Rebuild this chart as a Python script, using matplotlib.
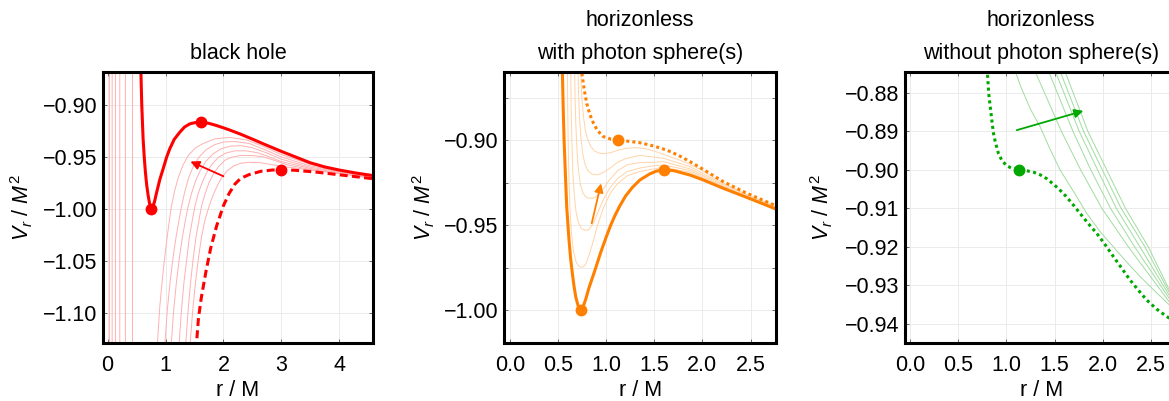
import matplotlib.pyplot as plt
from matplotlib.ticker import MultipleLocator, FuncFormatter

plt.rcParams['font.family'] = ['Liberation Sans', 'DejaVu Sans']
plt.rcParams['mathtext.fontset'] = 'custom'
plt.rcParams['mathtext.rm'] = 'Liberation Sans'
plt.rcParams['mathtext.it'] = 'Liberation Sans:italic'

# ---------------- black hole (red) ----------------
bh_solid_r = [0.565, 0.575, 0.59, 0.613, 0.635, 0.653, 0.675, 0.70, 0.725, 0.75, 0.78, 0.81,
              0.843, 0.90, 0.958, 1.02, 1.074, 1.15, 1.247, 1.33, 1.42, 1.52, 1.62, 1.75,
              1.88, 2.0, 2.116, 2.3, 2.5, 2.7, 3.0, 3.25, 3.5, 3.75, 4.0, 4.3, 4.6]
bh_solid_v = [-0.84, -0.868, -0.90, -0.9325, -0.952, -0.9647, -0.977, -0.987, -0.995, -1.000,
              -0.998, -0.993, -0.985, -0.972, -0.9615, -0.950, -0.942, -0.933, -0.926, -0.921,
              -0.918, -0.9167, -0.9164, -0.9175, -0.9196, -0.9218, -0.9241, -0.928, -0.9327,
              -0.9375, -0.9445, -0.950, -0.9555, -0.9595, -0.9625, -0.9655, -0.968]

bh_dash_r = [1.52, 1.535, 1.57, 1.62, 1.70, 1.78, 1.88, 2.0, 2.1, 2.2, 2.3, 2.45, 2.65, 2.85,
             3.0, 3.25, 3.6, 4.0, 4.3, 4.6]
bh_dash_v = [-1.16, -1.13, -1.105, -1.085, -1.06, -1.038, -1.017, -0.997, -0.985, -0.976,
             -0.9705, -0.9668, -0.9637, -0.9625, -0.9622, -0.9628, -0.9645, -0.9671, -0.969, -0.971]

bh_thin_r = [
    [0.43, 0.43, 0.85, 0.86, 0.90, 0.95, 1.00, 1.05, 1.10, 1.16, 1.22, 1.30, 1.40, 1.52, 1.65,
     1.85, 2.1, 2.4, 2.7, 3.0, 3.5, 4.0, 4.6],
    [0.307, 0.307, 0.98, 0.99, 1.03, 1.08, 1.13, 1.18, 1.23, 1.275, 1.33, 1.40, 1.48, 1.58,
     1.70, 1.85, 2.0, 2.2, 2.45, 2.7, 3.0, 3.5, 4.0, 4.6],
    [0.21, 0.21, 1.09, 1.10, 1.14, 1.19, 1.24, 1.29, 1.34, 1.39, 1.45, 1.52, 1.60, 1.70, 1.82,
     1.96, 2.12, 2.3, 2.5, 2.75, 3.0, 3.5, 4.0, 4.6],
    [0.135, 0.135, 1.225, 1.235, 1.275, 1.32, 1.37, 1.41, 1.46, 1.506, 1.56, 1.63, 1.71, 1.80,
     1.92, 2.05, 2.2, 2.4, 2.6, 2.8, 3.0, 3.5, 4.0, 4.6],
    [0.078, 0.078, 1.34, 1.35, 1.39, 1.435, 1.48, 1.525, 1.575, 1.62, 1.68, 1.75, 1.83, 1.92,
     2.03, 2.15, 2.3, 2.5, 2.7, 2.9, 3.1, 3.5, 4.0, 4.6],
    [0.03, 0.03, 1.415, 1.425, 1.47, 1.52, 1.57, 1.62, 1.68, 1.75, 1.82, 1.90, 1.98, 2.07,
     2.18, 2.3, 2.45, 2.65, 2.85, 3.0, 3.3, 3.6, 4.0, 4.6],
]
bh_thin_v = [
    [-0.80, -1.20, -1.20, -1.13, -1.095, -1.065, -1.04, -1.018, -0.998, -0.982, -0.970, -0.958,
     -0.948, -0.941, -0.937, -0.9325, -0.931, -0.9335, -0.940, -0.9476, -0.957, -0.963, -0.9683],
    [-0.80, -1.20, -1.20, -1.13, -1.098, -1.07, -1.047, -1.028, -1.012, -0.998, -0.984, -0.970,
     -0.959, -0.950, -0.943, -0.938, -0.9355, -0.935, -0.937, -0.9425, -0.9499, -0.9585,
     -0.9636, -0.9688],
    [-0.80, -1.20, -1.20, -1.13, -1.098, -1.07, -1.047, -1.028, -1.012, -0.998, -0.985, -0.973,
     -0.963, -0.954, -0.947, -0.942, -0.9395, -0.939, -0.941, -0.946, -0.9521, -0.9598,
     -0.9642, -0.9693],
    [-0.80, -1.20, -1.20, -1.13, -1.098, -1.07, -1.047, -1.028, -1.012, -0.998, -0.986, -0.975,
     -0.965, -0.957, -0.950, -0.946, -0.944, -0.944, -0.946, -0.950, -0.9543, -0.961, -0.9648,
     -0.9698],
    [-0.80, -1.20, -1.20, -1.13, -1.098, -1.07, -1.047, -1.028, -1.012, -0.998, -0.986, -0.975,
     -0.966, -0.959, -0.953, -0.950, -0.9485, -0.9485, -0.950, -0.9535, -0.9575, -0.962,
     -0.9654, -0.9703],
    [-0.80, -1.20, -1.20, -1.13, -1.098, -1.07, -1.047, -1.028, -1.011, -0.998, -0.987, -0.977,
     -0.969, -0.963, -0.9585, -0.956, -0.955, -0.9555, -0.9575, -0.9589, -0.961, -0.9632,
     -0.966, -0.9707],
]
bh_dots_r = [0.75, 1.62, 3.0]
bh_dots_v = [-1.000, -0.9164, -0.9622]
bh_arrow = [(2.0, -0.9685), (1.43, -0.9543)]  # tail, head

# ---------------- horizonless with photon spheres (orange) ----------------
ps_solid_r = [0.542, 0.544, 0.552, 0.561, 0.575, 0.589, 0.613, 0.63, 0.648, 0.665, 0.683, 0.71,
              0.735, 0.76, 0.79, 0.82, 0.88, 0.943, 1.0, 1.047, 1.09, 1.135, 1.2, 1.27, 1.35,
              1.45, 1.52, 1.6, 1.7, 1.871, 2.0, 2.217, 2.45, 2.703, 2.77]
ps_solid_v = [-0.84, -0.86, -0.88, -0.899, -0.92, -0.9394, -0.959, -0.970, -0.9786, -0.986,
              -0.9923, -0.998, -1.0002, -0.998, -0.993, -0.987, -0.977, -0.966, -0.957, -0.950,
              -0.9445, -0.9394, -0.933, -0.928, -0.9235, -0.920, -0.9183, -0.9176, -0.918,
              -0.9206, -0.9233, -0.9284, -0.9335, -0.9392, -0.9408]

ps_dot_r = [0.742, 0.745, 0.77, 0.797, 0.83, 0.866, 0.91, 0.97, 1.05, 1.126, 1.24, 1.351, 1.49,
            1.629, 1.75, 1.871, 2.0, 2.217, 2.45, 2.703, 2.77]
ps_dot_v = [-0.85, -0.86, -0.870, -0.8785, -0.885, -0.890, -0.8945, -0.898, -0.8995, -0.900,
            -0.9008, -0.9016, -0.9035, -0.9059, -0.909, -0.9127, -0.917, -0.9245, -0.931,
            -0.9372, -0.9387]

ps_thin_r = [
    [0.735, 0.74, 0.75, 0.765, 0.785, 0.81, 0.84, 0.88, 0.93, 0.98, 1.04, 1.12, 1.2, 1.3, 1.4,
     1.5, 1.6, 1.75, 1.871, 2.0, 2.217, 2.45, 2.703, 2.77],
    [0.707, 0.712, 0.72, 0.735, 0.755, 0.78, 0.81, 0.85, 0.91, 0.97, 1.04, 1.12, 1.2, 1.35, 1.6,
     1.871, 2.217, 2.45, 2.703, 2.77],
    [0.672, 0.676, 0.683, 0.695, 0.71, 0.73, 0.76, 0.80, 0.866, 0.92, 0.97, 1.04, 1.12, 1.22,
     1.35, 1.6, 1.871, 2.217, 2.45, 2.703, 2.77],
    [0.631, 0.635, 0.642, 0.652, 0.667, 0.685, 0.71, 0.74, 0.775, 0.814, 0.86, 0.91, 0.97, 1.04,
     1.12, 1.22, 1.35, 1.47, 1.6, 1.871, 2.217, 2.45, 2.703, 2.77],
    [0.596, 0.599, 0.605, 0.613, 0.625, 0.64, 0.66, 0.685, 0.71, 0.74, 0.765, 0.79, 0.82, 0.86,
     0.91, 0.97, 1.04, 1.12, 1.22, 1.35, 1.47, 1.6, 1.871, 2.217, 2.45, 2.703, 2.77],
]
ps_thin_v = [
    [-0.86, -0.868, -0.878, -0.887, -0.895, -0.900, -0.904, -0.9065, -0.9078, -0.908, -0.9075,
     -0.906, -0.905, -0.9045, -0.905, -0.9065, -0.9085, -0.9115, -0.9143, -0.918, -0.9253,
     -0.9318, -0.9376, -0.939],
    [-0.86, -0.872, -0.885, -0.898, -0.908, -0.9145, -0.918, -0.920, -0.9205, -0.919, -0.9165,
     -0.913, -0.911, -0.909, -0.9108, -0.9157, -0.926, -0.932, -0.938, -0.9395],
    [-0.86, -0.875, -0.89, -0.905, -0.917, -0.926, -0.9315, -0.934, -0.9343, -0.932, -0.9285,
     -0.923, -0.918, -0.9145, -0.9133, -0.9128, -0.917, -0.9267, -0.9327, -0.9384, -0.94],
    [-0.86, -0.88, -0.90, -0.918, -0.932, -0.942, -0.9485, -0.952, -0.953, -0.953, -0.9495,
     -0.943, -0.935, -0.928, -0.9225, -0.9185, -0.9165, -0.9153, -0.9147, -0.918, -0.9273,
     -0.9332, -0.9387, -0.9403],
    [-0.86, -0.88, -0.905, -0.925, -0.943, -0.956, -0.9655, -0.9715, -0.974, -0.9748, -0.9745,
     -0.9725, -0.968, -0.9605, -0.950, -0.940, -0.9315, -0.9255, -0.921, -0.9185, -0.9172,
     -0.9161, -0.919, -0.9278, -0.9336, -0.939, -0.9406],
]
ps_dots_r = [0.735, 1.60, 1.126]
ps_dots_v = [-1.0002, -0.9176, -0.900]
ps_arrow = [(0.849, -0.949), (0.946, -0.9255)]

# ---------------- horizonless without photon spheres (green) ----------------
np_dot_r = [0.795, 0.802, 0.815, 0.83, 0.85, 0.865, 0.882, 0.916, 0.951, 1.003, 1.06, 1.134,
            1.2, 1.279, 1.35, 1.418, 1.5, 1.59, 1.68, 1.763, 1.85, 1.937, 2.02, 2.109, 2.2,
            2.282, 2.37, 2.455, 2.56, 2.663, 2.77]
np_dot_v = [-0.872, -0.8746, -0.880, -0.8833, -0.8875, -0.8905, -0.8925, -0.8957, -0.8975,
            -0.899, -0.8996, -0.900, -0.9002, -0.9006, -0.9013, -0.9023, -0.904, -0.9061,
            -0.9087, -0.9113, -0.914, -0.9165, -0.9193, -0.9225, -0.9257, -0.9286, -0.9313,
            -0.9338, -0.9362, -0.9381, -0.9398]

np_thin_r = [
    [1.075, 1.085, 1.15, 1.25, 1.349, 1.45, 1.556, 1.70, 1.833, 1.97, 2.109, 2.25, 2.386, 2.52,
     2.687, 2.8],
    [1.29, 1.30, 1.57, 1.77, 1.99, 2.265, 2.687, 2.8],
    [1.43, 1.44, 1.69, 1.875, 2.08, 2.33, 2.687, 2.8],
    [1.50, 1.51, 1.755, 1.945, 2.14, 2.385, 2.687, 2.8],
    [1.55, 1.56, 1.80, 1.995, 2.19, 2.437, 2.687, 2.8],
    [1.60, 1.61, 1.845, 2.04, 2.235, 2.472, 2.687, 2.8],
]
np_thin_v = [
    [-0.873, -0.8740, -0.8785, -0.8843, -0.8888, -0.8945, -0.900, -0.9058, -0.9113, -0.916,
     -0.920, -0.924, -0.9277, -0.931, -0.935, -0.938],
    [-0.874, -0.8746, -0.89, -0.90, -0.91, -0.92, -0.9342, -0.9375],
    [-0.874, -0.8746, -0.89, -0.90, -0.91, -0.92, -0.9333, -0.937],
    [-0.874, -0.8746, -0.89, -0.90, -0.91, -0.92, -0.9325, -0.9365],
    [-0.874, -0.8746, -0.89, -0.90, -0.91, -0.92, -0.9317, -0.936],
    [-0.874, -0.8746, -0.89, -0.90, -0.91, -0.92, -0.931, -0.9355],
]
np_dots_r = [1.134]
np_dots_v = [-0.900]
np_arrow = [(1.107, -0.8897), (1.798, -0.8847)]

RED, RED_THIN = '#ff0000', '#ffb0b0'
ORANGE, ORANGE_THIN = '#ff8000', '#ffd4a8'
GREEN, GREEN_THIN = '#00a800', '#a0dca0'
FS = 15.5

W, H = 1169, 401
fig = plt.figure(figsize=(W / 100, H / 100), dpi=100)


def make_axes(x0, x1):
    return fig.add_axes([x0 / W, 1 - 342.7 / H, (x1 - x0) / W, (342.7 - 72) / H])


def fmt(decimals):
    return FuncFormatter(lambda v, pos: f'{v:.{decimals}f}'.replace('-', '\u2212'))


def style(ax, xlim, ylim, xstep, ystep, yminor, xdec, ydec, ylab_x):
    ax.set_xlim(*xlim)
    ax.set_ylim(*ylim)
    ax.xaxis.set_major_locator(MultipleLocator(xstep))
    ax.yaxis.set_major_locator(MultipleLocator(ystep))
    if yminor:
        ax.yaxis.set_minor_locator(MultipleLocator(yminor))
    ax.xaxis.set_major_formatter(fmt(xdec))
    ax.yaxis.set_major_formatter(fmt(ydec))
    ax.grid(True, which='both', color='#ebebeb', lw=0.7)
    ax.set_axisbelow(True)
    ax.tick_params(which='both', direction='in', length=3, width=0.6, color='#555555',
                   top=True, right=True, labelsize=FS)
    ax.tick_params(axis='x', pad=9)
    ax.tick_params(axis='y', pad=4)
    for s in ax.spines.values():
        s.set_linewidth(2.2)
    ax.set_xlabel('r / M', fontsize=FS)
    ax.set_ylabel(r'$V_r$ / $M^2$', fontsize=FS)
    ax.xaxis.set_label_coords(0.5, -0.138)
    ax.yaxis.set_label_coords(ylab_x, 0.5)


def arrow(ax, pts, color):
    ax.annotate('', xy=pts[1], xytext=pts[0],
                arrowprops=dict(arrowstyle='-|>', color=color, lw=1.3,
                                mutation_scale=13, shrinkA=0, shrinkB=0))


def titles(ax, lines):
    ys = [1.07, 1.192]
    for y, t in zip(ys, reversed(lines)):
        ax.text(0.5, y, t, transform=ax.transAxes, ha='center', va='center', fontsize=FS)


# panel 1
ax1 = make_axes(103, 373)
for r, v in zip(bh_thin_r, bh_thin_v):
    ax1.plot(r, v, color=RED_THIN, lw=0.7)
ax1.plot(bh_solid_r, bh_solid_v, color=RED, lw=2.2)
ax1.plot(bh_dash_r, bh_dash_v, color=RED, lw=2.2, ls=(0, (2.6, 1.4)))
ax1.plot(bh_dots_r, bh_dots_v, 'o', color=RED, ms=7.5)
arrow(ax1, bh_arrow, RED)
style(ax1, (-0.08, 4.585), (-1.129, -0.868), 1, 0.05, None, 0, 2, -0.252)
titles(ax1, ['black hole'])

# panel 2
ax2 = make_axes(504.3, 776)
for r, v in zip(ps_thin_r, ps_thin_v):
    ax2.plot(r, v, color=ORANGE_THIN, lw=0.7)
ax2.plot(ps_solid_r, ps_solid_v, color=ORANGE, lw=2.2)
ax2.plot(ps_dot_r, ps_dot_v, color=ORANGE, lw=2.2, ls=(0, (1.0, 1.0)))
ax2.plot(ps_dots_r, ps_dots_v, 'o', color=ORANGE, ms=7.5)
arrow(ax2, ps_arrow, ORANGE)
style(ax2, (-0.06, 2.765), (-1.0192, -0.86), 0.5, 0.05, 0.025, 1, 2, -0.249)
titles(ax2, ['horizonless', 'with photon sphere(s)'])

# panel 3 (runs past the right edge of the figure, as in the original)
ax3 = make_axes(905.3, 1177)
for r, v in zip(np_thin_r, np_thin_v):
    ax3.plot(r, v, color=GREEN_THIN, lw=0.7)
ax3.plot(np_dot_r, np_dot_v, color=GREEN, lw=2.2, ls=(0, (1.0, 1.1)))
ax3.plot(np_dots_r, np_dots_v, 'o', color=GREEN, ms=7.5)
arrow(ax3, np_arrow, GREEN)
style(ax3, (-0.05, 2.77), (-0.9449, -0.8746), 0.5, 0.01, None, 1, 2, -0.259)
titles(ax3, ['horizonless', 'without photon sphere(s)'])

fig.savefig('out.png', dpi=100)
